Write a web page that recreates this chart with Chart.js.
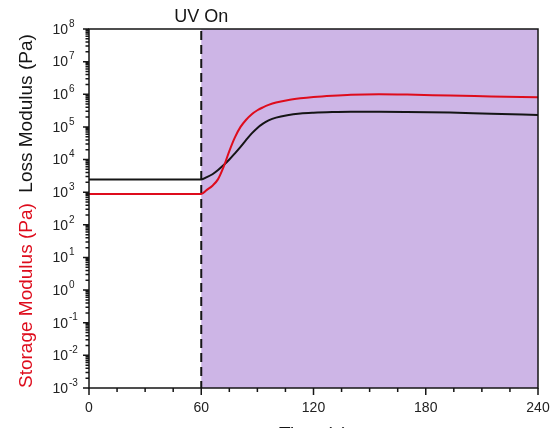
<!DOCTYPE html>
<html lang="en">
<head>
<meta charset="utf-8">
<title>Storage / Loss Modulus</title>
<script src="https://cdn.jsdelivr.net/npm/chart.js@4.4.1/dist/chart.umd.min.js"></script>
<style>
    html, body { margin: 0; padding: 0; background: #fff; }
    #rheo-chart { display: block; }
</style>
</head>
<body>
<canvas id="rheo-chart" width="550" height="428"></canvas>
<script>
// Tempo (s)
const timePoints = [0, 30, 60, 63, 66, 69, 72, 75, 78, 81, 84, 87, 90, 93, 96, 100, 106, 113, 120, 130, 140, 155, 170, 193, 215, 240];

// Módulo de armazenamento G' (Pa)
const storageModulus = [881, 881, 881, 1175, 1585, 2512, 6026, 1.82e4, 4.79e4, 1.0e5, 1.66e5, 2.45e5, 3.24e5, 3.98e5, 4.73e5, 5.62e5, 6.61e5, 7.50e5, 8.22e5, 9.02e5, 9.66e5, 1.0e6, 9.77e5, 9.12e5, 8.61e5, 8.04e5];

// Módulo de perda G'' (Pa)
const lossModulus = [2455, 2455, 2455, 2884, 3548, 4786, 6761, 1.0e4, 1.55e4, 2.45e4, 3.98e4, 6.31e4, 9.33e4, 1.26e5, 1.58e5, 1.93e5, 2.29e5, 2.57e5, 2.72e5, 2.85e5, 2.92e5, 2.93e5, 2.88e5, 2.74e5, 2.51e5, 2.32e5];

// Marcas dos eixos
const xTicks = [0, 60, 120, 180, 240];
const xMinorTicks = [15, 30, 45, 75, 90, 105, 135, 150, 165, 195, 210, 225];
const yExponents = [-3, -2, -1, 0, 1, 2, 3, 4, 5, 6, 7, 8];

// Janela com UV ligado
const uvOnTime = 60;
const uvEndTime = 240;

const RED = 'rgb(222, 12, 28)';
const BLACK = '#151515';
const UV_FILL = '#CDB5E6';
const FONT = '"Liberation Sans", Arial, sans-serif';

document.addEventListener('DOMContentLoaded', () => {
    setupRheologyChart();
});

// Fundo roxo + linha tracejada do UV
const uvRegionPlugin = {
    id: 'uvRegion',
    beforeDatasetsDraw(chart) {
        const { ctx, chartArea, scales } = chart;
        const x0 = scales.x.getPixelForValue(uvOnTime);
        const x1 = scales.x.getPixelForValue(uvEndTime);

        ctx.save();
        ctx.fillStyle = UV_FILL;
        ctx.fillRect(x0, chartArea.top, x1 - x0, chartArea.bottom - chartArea.top);

        ctx.strokeStyle = BLACK;
        ctx.lineWidth = 2;
        ctx.setLineDash([9, 5]);
        ctx.beginPath();
        ctx.moveTo(x0, chartArea.top + 2);
        ctx.lineTo(x0, chartArea.bottom);
        ctx.stroke();
        ctx.restore();
    }
};

// Moldura, marcas, rótulos e títulos
const axesPlugin = {
    id: 'customAxes',
    afterDraw(chart) {
        const { ctx, chartArea, scales } = chart;
        const { left, right, top, bottom } = chartArea;

        ctx.save();
        ctx.strokeStyle = BLACK;
        ctx.lineWidth = 1.5;
        ctx.setLineDash([]);

        // moldura
        ctx.strokeRect(left, top, right - left, bottom - top);

        // eixo x
        ctx.beginPath();
        xTicks.forEach(v => {
            const px = scales.x.getPixelForValue(v);
            ctx.moveTo(px, bottom);
            ctx.lineTo(px, bottom + 7);
        });
        xMinorTicks.forEach(v => {
            const px = scales.x.getPixelForValue(v);
            ctx.moveTo(px, bottom);
            ctx.lineTo(px, bottom + 4);
        });

        // eixo y (log)
        yExponents.forEach(e => {
            const py = scales.y.getPixelForValue(Math.pow(10, e));
            ctx.moveTo(left - 6, py);
            ctx.lineTo(left, py);
            if (e < 8) {
                for (let m = 2; m <= 9; m++) {
                    const pm = scales.y.getPixelForValue(m * Math.pow(10, e));
                    ctx.moveTo(left - 3.5, pm);
                    ctx.lineTo(left, pm);
                }
            }
        });
        ctx.stroke();

        ctx.fillStyle = '#222';

        // rótulos x
        ctx.font = '14px ' + FONT;
        ctx.textAlign = 'center';
        ctx.textBaseline = 'middle';
        xTicks.forEach(v => {
            ctx.fillText(String(v), scales.x.getPixelForValue(v), bottom + 20);
        });

        // rótulos y: 10 com expoente
        yExponents.forEach(e => {
            const py = scales.y.getPixelForValue(Math.pow(10, e));
            ctx.font = '14px ' + FONT;
            ctx.textAlign = 'right';
            ctx.textBaseline = 'middle';
            ctx.fillText('10', left - 21, py + 1);
            ctx.font = '10px ' + FONT;
            ctx.textAlign = 'left';
            ctx.fillText(String(e), left - 20, py - 5);
        });

        // UV On
        ctx.fillStyle = BLACK;
        ctx.font = '18px ' + FONT;
        ctx.textAlign = 'center';
        ctx.textBaseline = 'middle';
        ctx.fillText('UV On', scales.x.getPixelForValue(uvOnTime), 17);

        // título x (só o topo cabe no canvas)
        ctx.font = '19px ' + FONT;
        ctx.textBaseline = 'alphabetic';
        ctx.fillText('Time (s)', (left + right) / 2, bottom + 52);

        // título y em duas cores
        ctx.translate(32, bottom);
        ctx.rotate(-Math.PI / 2);
        ctx.textAlign = 'left';
        const storageText = 'Storage Modulus (Pa)';
        ctx.fillStyle = RED;
        ctx.fillText(storageText, 0, 0);
        const offset = ctx.measureText(storageText + '  ').width;
        ctx.fillStyle = BLACK;
        ctx.fillText('Loss Modulus (Pa)', offset, 0);

        ctx.restore();
    }
};

function buildSeries(values) {
    return timePoints.map((t, i) => ({ x: t, y: values[i] }));
}

function setupRheologyChart() {
    const ctx = document.getElementById('rheo-chart');
    if (!ctx) return;

    window.rheoChart = new Chart(ctx, {
        type: 'line',
        data: {
            datasets: [
                {
                    label: 'Storage Modulus',
                    data: buildSeries(storageModulus),
                    borderColor: RED,
                    borderWidth: 2,
                    cubicInterpolationMode: 'monotone',
                    pointRadius: 0,
                    fill: false
                },
                {
                    label: 'Loss Modulus',
                    data: buildSeries(lossModulus),
                    borderColor: BLACK,
                    borderWidth: 2,
                    cubicInterpolationMode: 'monotone',
                    pointRadius: 0,
                    fill: false
                }
            ]
        },
        options: {
            responsive: false,
            animation: false,
            layout: {
                padding: { left: 89, top: 29, right: 12, bottom: 40 }
            },
            plugins: {
                legend: { display: false },
                tooltip: { enabled: false }
            },
            scales: {
                x: { type: 'linear', min: 0, max: 240, display: false },
                y: { type: 'logarithmic', min: 1e-3, max: 1e8, display: false }
            }
        },
        plugins: [uvRegionPlugin, axesPlugin]
    });
}
</script>
</body>
</html>
